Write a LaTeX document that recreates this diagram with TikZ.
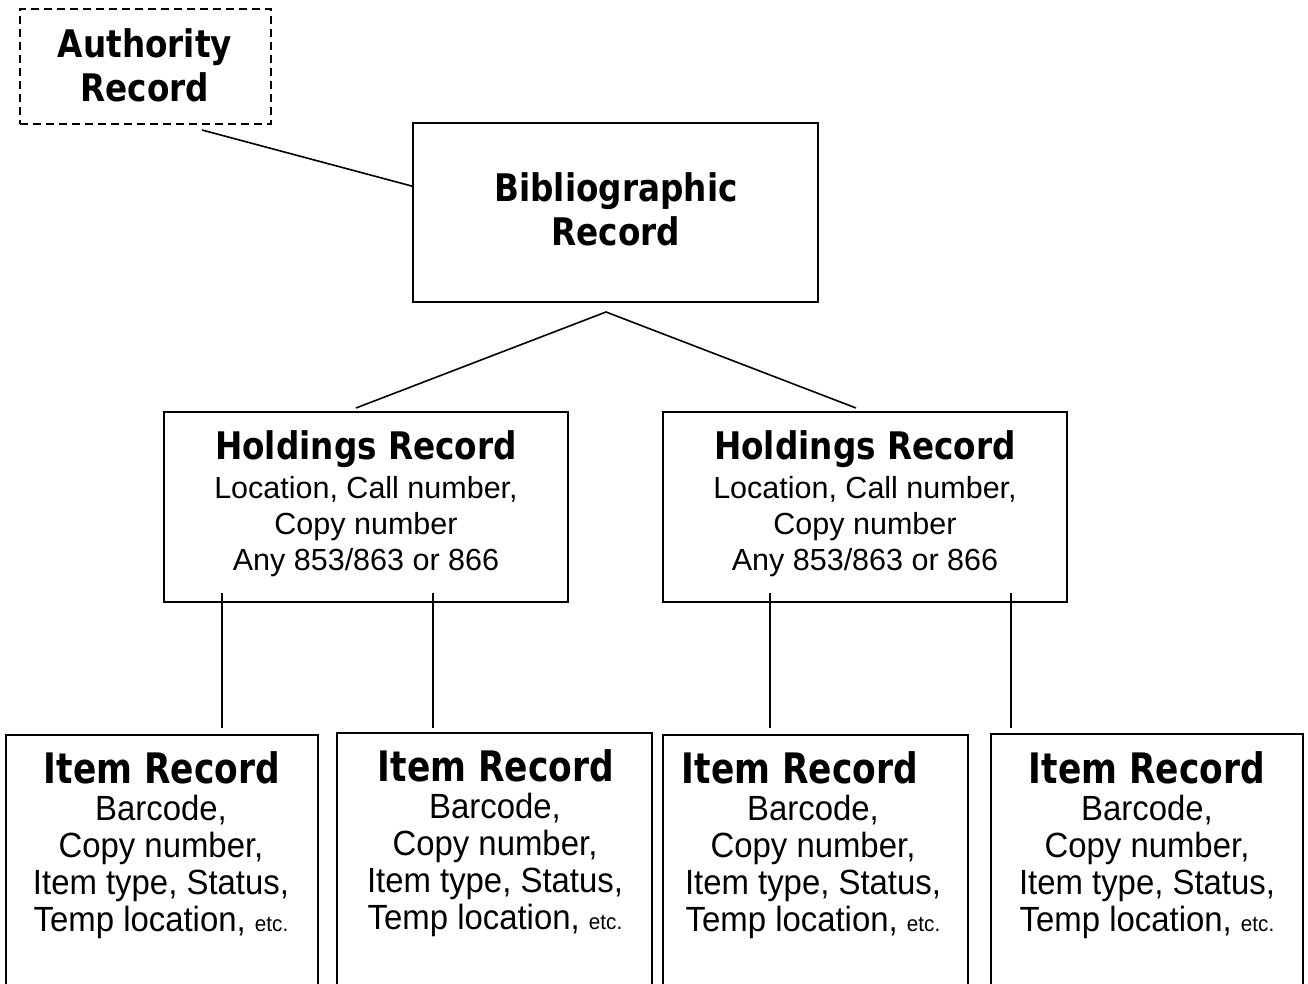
\documentclass[tikz,border=0pt]{standalone}
\usepackage{fontspec}
\setmainfont{Liberation Sans}
\newfontfamily\titlefont{DejaVu Sans}[FakeStretch=0.86]
\newfontfamily\itemtitlefont{DejaVu Sans}[FakeStretch=0.82]
\newfontfamily\itemfont{Liberation Sans}[FakeStretch=0.94]
\usetikzlibrary{fit,calc}
\tikzset{
  box/.style={draw, line width=1.7pt, rectangle, inner sep=0pt},
  dbox/.style={box, line width=1.5pt, dash pattern=on 8pt off 5pt},
  conn/.style={line width=1.6pt},
  ttl/.style={anchor=base, inner sep=0pt, font=\titlefont\bfseries\fontsize{38}{44}\selectfont},
  ittl/.style={anchor=base, inner sep=0pt, font=\itemtitlefont\bfseries\fontsize{42}{44}\selectfont},
  txt/.style={anchor=base, inner sep=0pt, font=\fontsize{30.5}{36}\selectfont},
  itxt/.style={anchor=base, inner sep=0pt, font=\itemfont\fontsize{35}{37}\selectfont},
}
\newcommand{\smalletc}{{\fontsize{22}{24}\selectfont etc.}}
\begin{document}
\begin{tikzpicture}[x=1pt,y=-1pt]
\clip (0,0) rectangle (1308,984);
\fill[white] (0,0) rectangle (1308,984);
% boxes
\node[dbox, fit={(20,9) (271,124)}] (auth) {};
\node[box, fit={(413,123) (818,302)}] (bib) {};
\node[box, fit={(164,412) (568,602)}] (hold1) {};
\node[box, fit={(663,412) (1067,602)}] (hold2) {};
\node[box, fit={(6,735) (318,1010)}] (item1) {};
\node[box, fit={(337,733) (652,1010)}] (item2) {};
\node[box, fit={(663,735) (968,1010)}] (item3) {};
\node[box, fit={(991,734) (1303,1010)}] (item4) {};
% texts
\node[ttl] (auth1) at (145,58) {Authority};
\node[ttl] (auth2) at (145,102) {Record};
\node[ttl] (bib1) at (616,202) {Bibliographic};
\node[ttl] (bib2) at (616,246) {Record};
\foreach \h/\x in {1/366, 2/865} {
  \node[ttl] (hold\h t) at (\x,459) {Holdings Record};
  \node[txt] (hold\h a) at (\x,498) {Location, Call number,};
  \node[txt] (hold\h b) at (\x,534) {Copy number};
  \node[txt] (hold\h c) at (\x,570) {Any 853/863 or 866};
}
\foreach \i/\tx/\bx/\t in {1/162/161/735, 2/496/495/733, 3/800/813/735, 4/1147/1147/735} {
  \node[ittl] (item\i t) at (\tx,\t+48) {Item Record};
  \node[itxt] (item\i a) at (\bx,\t+85) {Barcode,};
  \node[itxt] (item\i b) at (\bx,\t+122) {Copy number,};
  \node[itxt] (item\i c) at (\bx,\t+159) {Item type, Status,};
  \node[itxt] (item\i d) at (\bx,\t+196) {Temp location, \smalletc};
}
% connectors
\coordinate (authEnd) at (202,130);
\draw[conn] (authEnd) -- ($(bib.north west)+(0,64)$);
\coordinate (apex) at (606,312);
\coordinate (h1top) at (356,408);
\coordinate (h2top) at (856,408);
\draw[conn] (h1top) -- (apex) -- (h2top);
\foreach \x/\n in {222/1, 433/2, 770/3, 1011/4} {
  \coordinate (vtop\n) at (\x,593);
  \coordinate (vbot\n) at (\x,728);
  \draw[conn] (vtop\n) -- (vbot\n);
}
\end{tikzpicture}
\end{document}
